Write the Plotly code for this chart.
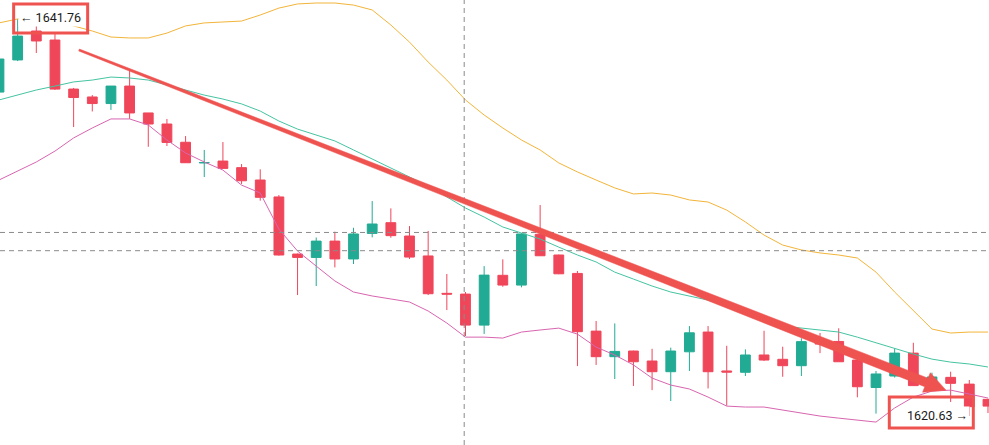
import plotly.graph_objects as go

# ---------------- data ----------------
bar_index = list(range(54))

open_ = [1637.87, 1639.58, 1641.12, 1640.64, 1638.03, 1637.61, 1637.26, 1638.19, 1636.76, 1636.17,
         1635.20, 1634.10, 1634.20, 1633.85, 1633.19, 1632.29, 1629.25, 1629.07, 1629.94, 1628.99,
         1630.35, 1630.92, 1630.21, 1629.15, 1627.16, 1627.12, 1625.47, 1628.12, 1627.60, 1630.30,
         1629.20, 1628.22, 1625.15, 1623.79, 1624.09, 1623.56, 1622.99, 1624.05, 1625.10, 1623.03,
         1622.96, 1623.88, 1623.65, 1623.31, 1624.73, 1624.60, 1623.61, 1622.15, 1622.76, 1623.98,
         1622.28, 1622.69, 1622.33, 1621.52]
high = [1639.74, 1641.76, 1641.44, 1641.01, 1638.09, 1637.71, 1638.19, 1639.04, 1636.76, 1636.44,
        1635.53, 1634.79, 1635.21, 1634.04, 1633.76, 1632.39, 1629.28, 1630.13, 1630.44, 1630.65,
        1632.07, 1631.68, 1630.74, 1630.48, 1628.19, 1627.23, 1628.61, 1628.97, 1630.37, 1631.86,
        1629.22, 1628.35, 1625.69, 1625.56, 1624.11, 1624.21, 1624.27, 1625.42, 1625.42, 1624.37,
        1624.18, 1625.17, 1624.32, 1624.77, 1625.05, 1625.30, 1623.66, 1623.03, 1624.23, 1624.53,
        1622.94, 1622.99, 1622.55, 1621.55]
low = [1637.77, 1639.52, 1639.95, 1637.98, 1636.01, 1636.84, 1636.92, 1636.44, 1634.96, 1635.00,
       1634.10, 1633.35, 1633.80, 1632.98, 1632.09, 1629.17, 1627.07, 1627.55, 1628.54, 1628.72,
       1630.14, 1630.12, 1628.99, 1627.07, 1626.27, 1624.89, 1625.00, 1627.51, 1627.48, 1629.16,
       1628.18, 1623.29, 1623.35, 1622.60, 1622.23, 1622.01, 1621.43, 1623.03, 1622.10, 1621.18,
       1622.76, 1623.56, 1622.72, 1622.76, 1623.98, 1623.52, 1621.63, 1620.76, 1622.68, 1622.23,
       1622.12, 1621.38, 1620.63, 1620.79]
close = [1639.63, 1640.85, 1640.59, 1638.03, 1637.58, 1637.26, 1638.19, 1636.76, 1636.17, 1635.19,
         1634.11, 1634.12, 1633.81, 1633.15, 1632.27, 1629.20, 1629.07, 1629.94, 1628.99, 1630.32,
         1630.85, 1630.23, 1629.09, 1627.14, 1627.12, 1625.47, 1628.13, 1627.60, 1630.32, 1629.16,
         1628.20, 1625.12, 1623.79, 1624.07, 1623.52, 1622.99, 1624.09, 1625.06, 1622.99, 1622.97,
         1623.88, 1623.61, 1623.31, 1624.59, 1624.46, 1623.52, 1622.19, 1622.87, 1623.98, 1622.25,
         1622.71, 1622.37, 1621.13, 1621.16]

bb_upper = [1641.55, 1641.76, 1641.81, 1641.65, 1641.39, 1641.12, 1640.80, 1640.75, 1640.75, 1641.01,
            1641.39, 1641.55, 1641.60, 1641.65, 1641.97, 1642.34, 1642.56, 1642.61, 1642.61, 1642.50,
            1642.24, 1641.44, 1640.53, 1639.47, 1638.51, 1637.45, 1636.65, 1635.96, 1635.32, 1634.79,
            1634.10, 1633.62, 1633.19, 1632.77, 1632.45, 1632.50, 1632.39, 1632.13, 1632.02, 1631.59,
            1630.96, 1630.26, 1629.73, 1629.47, 1629.31, 1629.20, 1629.04, 1628.29, 1627.23, 1626.27,
            1625.26, 1625.05, 1625.10, 1625.10]
bb_mid = [1637.45, 1637.71, 1637.98, 1638.19, 1638.41, 1638.51, 1638.67, 1638.62, 1638.51, 1638.25,
          1637.98, 1637.71, 1637.50, 1637.24, 1636.86, 1636.33, 1635.90, 1635.59, 1635.27, 1634.79,
          1634.31, 1633.83, 1633.35, 1632.87, 1632.29, 1631.70, 1631.22, 1630.69, 1630.37, 1630.05,
          1629.62, 1629.20, 1628.83, 1628.29, 1627.92, 1627.55, 1627.23, 1627.02, 1626.80, 1626.48,
          1626.11, 1625.74, 1625.42, 1625.31, 1625.21, 1625.10, 1624.83, 1624.52, 1624.20, 1623.93,
          1623.66, 1623.50, 1623.40, 1623.24]
bb_lower = [1633.19, 1633.67, 1634.15, 1634.73, 1635.43, 1635.96, 1636.44, 1636.44, 1636.12, 1635.32,
            1634.63, 1634.15, 1633.72, 1632.92, 1632.50, 1630.58, 1629.41, 1628.61, 1627.82, 1627.23,
            1627.02, 1626.86, 1626.70, 1626.22, 1625.58, 1624.83, 1624.83, 1624.78, 1625.10, 1625.21,
            1625.31, 1624.99, 1624.30, 1623.88, 1623.35, 1622.65, 1622.28, 1622.07, 1621.64, 1621.16,
            1621.11, 1621.11, 1620.95, 1620.79, 1620.63, 1620.52, 1620.42, 1620.31, 1621.06, 1621.64,
            1621.96, 1622.01, 1621.80, 1621.59]

hi_label = "← 1641.76"
lo_label = "1620.63 →"
crosshair_prices = [1630.40, 1629.43]
crosshair_bar = 24.93
arrow_start = (4.29, 1640.11)
arrow_tip = (50.75, 1622.01)

# ---------------- layout constants ----------------
W, H = 989, 445
XR = [0.054, 53.055]
YR = [1619.09, 1642.77]
UP, DOWN = "#22AB94", "#F0465A"
ARROW_RED = "#EF5350"

fig = go.Figure()

fig.add_trace(go.Candlestick(
    x=bar_index, open=open_, high=high, low=low, close=close,
    increasing=dict(line=dict(color=UP, width=1), fillcolor=UP),
    decreasing=dict(line=dict(color=DOWN, width=1), fillcolor=DOWN),
    whiskerwidth=0, showlegend=False, hoverinfo="skip"))

for ys, col in [(bb_upper, "#F2B53A"), (bb_mid, "#45C4A2"), (bb_lower, "#D865B0")]:
    fig.add_trace(go.Scatter(x=bar_index, y=ys, mode="lines",
                             line=dict(color=col, width=1), showlegend=False, hoverinfo="skip"))

# --- crosshair dashed lines ---
shapes = []
for p in crosshair_prices:
    shapes.append(dict(type="line", xref="paper", x0=0, x1=1, yref="y", y0=p, y1=p,
                       line=dict(color="#8a8a8a", width=1, dash="5px,4px")))
shapes.append(dict(type="line", xref="x", x0=crosshair_bar, x1=crosshair_bar, yref="paper", y0=0, y1=1,
                   line=dict(color="#8a8a8a", width=1, dash="5px,4px")))

# --- tapered trend arrow (built in pixel space, mapped back to data) ---
def to_px(x, y):
    return ((x - XR[0]) / (XR[1] - XR[0]) * W, (YR[1] - y) / (YR[1] - YR[0]) * H)

def to_data(px, py):
    return (XR[0] + px / W * (XR[1] - XR[0]), YR[1] - py / H * (YR[1] - YR[0]))

sx, sy = to_px(*arrow_start)
tx, ty = to_px(*arrow_tip)
L = ((tx - sx) ** 2 + (ty - sy) ** 2) ** 0.5
dx, dy = (tx - sx) / L, (ty - sy) / L
nx, ny = -dy, dx
head_len, head_hw, w0, w1 = 21, 10.5, 1.0, 4.6
bx, by = tx - head_len * dx, ty - head_len * dy
pts = [(sx + nx * w0, sy + ny * w0), (bx + nx * w1, by + ny * w1), (bx + nx * head_hw, by + ny * head_hw),
       (tx, ty), (bx - nx * head_hw, by - ny * head_hw), (bx - nx * w1, by - ny * w1),
       (sx - nx * w0, sy - ny * w0)]
dpts = [to_data(px, py) for px, py in pts]
path = "M " + " L ".join(f"{x:.5f},{y:.5f}" for x, y in dpts) + " Z"
shapes.append(dict(type="path", xref="x", yref="y", path=path,
                   fillcolor=ARROW_RED, line=dict(color=ARROW_RED, width=0.5)))

# --- highest / lowest labels ---
i_hi = high.index(max(high))
i_lo = low.index(min(low))
shapes.append(dict(type="rect", xref="x", yref="y", xsizemode="pixel", ysizemode="pixel",
                   xanchor=i_hi, yanchor=high[i_hi], x0=-4, x1=70, y0=-14, y1=15,
                   line=dict(color=ARROW_RED, width=3), fillcolor="rgba(0,0,0,0)"))
shapes.append(dict(type="rect", xref="x", yref="y", xsizemode="pixel", ysizemode="pixel",
                   xanchor=i_lo, yanchor=low[i_lo], x0=-80, x1=4, y0=-12, y1=19,
                   line=dict(color=ARROW_RED, width=3), fillcolor="rgba(0,0,0,0)"))

annotations = [
    dict(x=i_hi, y=high[i_hi], xref="x", yref="y", text=hi_label, showarrow=False,
         xanchor="left", yanchor="middle", xshift=0, yshift=1,
         font=dict(family="Roboto", size=12.5, color="#1a1a1a"), bgcolor="white", borderpad=1),
    dict(x=i_lo, y=low[i_lo], xref="x", yref="y", text=lo_label, showarrow=False,
         xanchor="right", yanchor="middle", xshift=1, yshift=1,
         font=dict(family="Roboto", size=12.5, color="#1a1a1a"), bgcolor="white", borderpad=1),
]

fig.update_layout(
    width=W, height=H, margin=dict(l=0, r=0, t=0, b=0),
    paper_bgcolor="white", plot_bgcolor="white",
    boxgap=0.25, hovermode=False, showlegend=False,
    xaxis=dict(range=XR, visible=False, rangeslider=dict(visible=False), fixedrange=True),
    yaxis=dict(range=YR, visible=False, fixedrange=True),
    shapes=shapes, annotations=annotations,
)

fig.write_html("out.html")
